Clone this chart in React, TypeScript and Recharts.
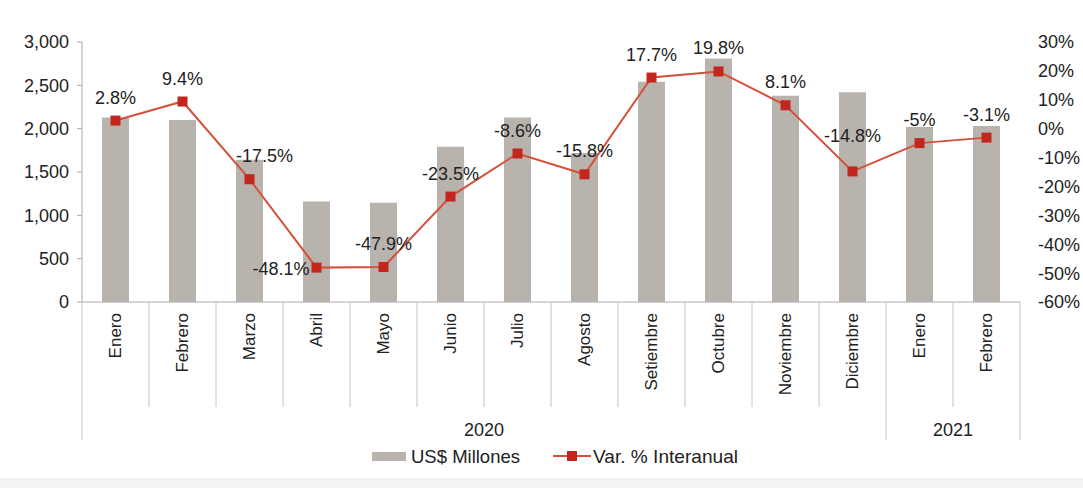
import { ComposedChart, Bar, Line, XAxis, YAxis, LabelList, Legend } from 'recharts';

// Exportaciones mensuales (US$ millones) y variación interanual (%)
const months = ['Enero', 'Febrero', 'Marzo', 'Abril', 'Mayo', 'Junio', 'Julio', 'Agosto', 'Setiembre', 'Octubre', 'Noviembre', 'Diciembre', 'Enero', 'Febrero'];
const years = ['2020', '2020', '2020', '2020', '2020', '2020', '2020', '2020', '2020', '2020', '2020', '2020', '2021', '2021'];
const millones = [2130, 2100, 1640, 1160, 1145, 1790, 2130, 1720, 2540, 2810, 2380, 2420, 2020, 2030];
const variacion = [2.8, 9.4, -17.5, -48.1, -47.9, -23.5, -8.6, -15.8, 17.7, 19.8, 8.1, -14.8, -5, -3.1];
const leftTicks = [0, 500, 1000, 1500, 2000, 2500, 3000];
const rightTicks = [-60, -50, -40, -30, -20, -10, 0, 10, 20, 30];

const data = months.map((m, i) => ({ idx: i, month: m, year: years[i], millones: millones[i], variacion: variacion[i] }));

const FONT = '"Liberation Sans", Arial, sans-serif';
const TEXT = '#222222';
const GRID = '#c4c4c4';
const BAR = '#b9b3ad';
const LINE = '#d5503a';
const MARK = '#c3261c';
const BAND = (1020 - 82) / months.length;

function MonthTick(props: any) {
  const { x, y, payload } = props;
  const i: number = payload.index ?? props.index;
  const half = payload.offset || BAND / 2;
  const left = x - half;
  const yearStart = i === 0 || years[i] !== years[i - 1];
  const count = years.filter((yv) => yv === years[i]).length;
  return (
    <g>
      <line x1={left} x2={left} y1={y} y2={yearStart ? y + 138 : y + 105} stroke={GRID} strokeWidth={1} />
      {i === months.length - 1 && (
        <line x1={x + half} x2={x + half} y1={y} y2={y + 138} stroke={GRID} strokeWidth={1} />
      )}
      <text
        x={0}
        y={0}
        transform={`translate(${x},${y + 11}) rotate(-90)`}
        textAnchor="end"
        dominantBaseline="central"
        fontFamily={FONT}
        fontSize={17}
        fill={TEXT}
      >
        {months[i]}
      </text>
      {yearStart && (
        <text x={left + (count * half * 2) / 2} y={y + 134} textAnchor="middle" fontFamily={FONT} fontSize={18} fill={TEXT}>
          {years[i]}
        </text>
      )}
    </g>
  );
}

function SquareDot(props: any) {
  const { cx, cy } = props;
  if (cx == null || cy == null) return null;
  return <rect x={cx - 5} y={cy - 5} width={10} height={10} fill={MARK} />;
}

const labelShift: Record<number, [number, number]> = { 2: [15, 0], 11: [0, -12] };

function PctLabel(props: any) {
  const { x, y, value, index } = props;
  if (index === 3) {
    return (
      <text x={x - 7} y={y + 7} textAnchor="end" fontFamily={FONT} fontSize={18} fill={TEXT}>
        {`${value}%`}
      </text>
    );
  }
  const [dx, dy] = labelShift[index] || [0, 0];
  return (
    <text x={x + dx} y={y - 17 + dy} textAnchor="middle" fontFamily={FONT} fontSize={18} fill={TEXT}>
      {`${value}%`}
    </text>
  );
}

function LegendBox() {
  return (
    <svg width={1083} height={30} style={{ display: 'block' }}>
      <rect x={372} y={10} width={34} height={9} fill={BAR} />
      <text x={411} y={21} fontFamily={FONT} fontSize={19} fill={TEXT} textLength={109} lengthAdjust="spacingAndGlyphs">
        US$ Millones
      </text>
      <line x1={553} x2={591} y1={14} y2={14} stroke={LINE} strokeWidth={2} />
      <rect x={567} y={9} width={10} height={10} fill={MARK} />
      <text x={593} y={21} fontFamily={FONT} fontSize={19} fill={TEXT} textLength={145} lengthAdjust="spacingAndGlyphs">
        Var. % Interanual
      </text>
    </svg>
  );
}

export default function App() {
  return (
    <div style={{ position: 'absolute', left: 0, top: 0, width: 1083, height: 488, background: '#ffffff' }}>
      <div style={{ position: 'absolute', left: 0, top: 478, width: 1083, height: 10, background: '#f3f3f3' }} />
      <ComposedChart width={1083} height={488} data={data} margin={{ top: 42, right: 0, bottom: 0, left: 0 }}>
        <XAxis
          dataKey="idx"
          xAxisId={0}
          height={186}
          axisLine={{ stroke: '#aaaaaa' }}
          tickLine={false}
          tickSize={0}
          tickMargin={0}
          interval={0}
          tick={<MonthTick />}
        />
        <YAxis
          yAxisId="left"
          width={82}
          domain={[0, 3000]}
          ticks={leftTicks}
          interval={0}
          axisLine={{ stroke: '#aaaaaa' }}
          tickLine={{ stroke: '#aaaaaa' }}
          tickSize={5}
          tickMargin={8}
          tickFormatter={(v: number) => v.toLocaleString('en-US')}
          tick={{ fontFamily: FONT, fontSize: 18, fill: TEXT }}
        />
        <YAxis
          yAxisId="right"
          orientation="right"
          width={63}
          domain={[-60, 30]}
          ticks={rightTicks}
          interval={0}
          axisLine={false}
          tickLine={false}
          tickSize={0}
          tickMargin={18}
          tickFormatter={(v: number) => `${v}%`}
          tick={{ fontFamily: FONT, fontSize: 18, fill: TEXT }}
        />
        <Bar yAxisId="left" dataKey="millones" name="US$ Millones" fill={BAR} barSize={27} isAnimationActive={false} />
        <Line
          yAxisId="right"
          dataKey="variacion"
          name="Var. % Interanual"
          type="linear"
          stroke={LINE}
          strokeWidth={2}
          dot={<SquareDot />}
          activeDot={false}
          isAnimationActive={false}
        >
          <LabelList dataKey="variacion" content={<PctLabel />} />
        </Line>
        <Legend
          layout="horizontal"
          verticalAlign="middle"
          align="center"
          content={<LegendBox />}
          wrapperStyle={{ position: 'absolute', top: 442, left: 0, width: 1083 }}
        />
      </ComposedChart>
    </div>
  );
}
